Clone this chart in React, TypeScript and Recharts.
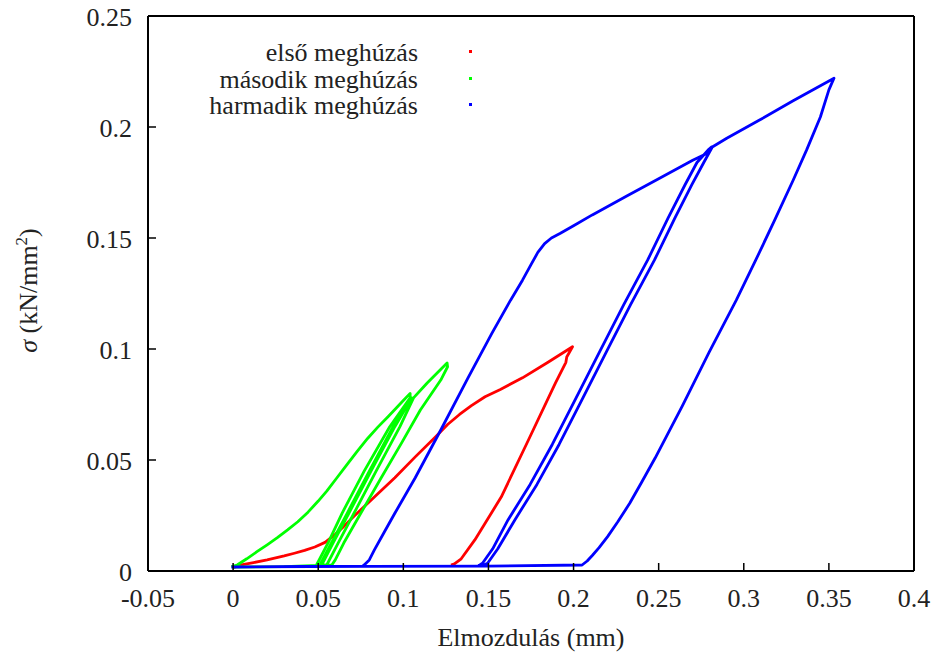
import React from "react";
import { LineChart, Line, XAxis, YAxis, Legend, Label } from "recharts";

const xTicks = [-0.05, 0, 0.05, 0.1, 0.15, 0.2, 0.25, 0.3, 0.35, 0.4];
const yTicks = [0, 0.05, 0.1, 0.15, 0.2, 0.25];

const seriesNames = ["első meghúzás", "második meghúzás", "harmadik meghúzás"];
const seriesColors = ["#ff0000", "#00ff00", "#0000ff"];

// első meghúzás
const firstX = [
  0, 0.004, 0.012, 0.02, 0.03, 0.036, 0.042, 0.048, 0.054, 0.06, 0.065, 0.071,
  0.083, 0.095, 0.107, 0.119, 0.126, 0.133, 0.14, 0.148, 0.157, 0.17, 0.185,
  0.1994, 0.196, 0.1955, 0.1894, 0.1735, 0.1575, 0.142, 0.134, 0.13, 0.128,
];
const firstY = [
  0.0015, 0.0027, 0.0038, 0.005, 0.0068, 0.008, 0.0093, 0.0108, 0.0129, 0.0165,
  0.0201, 0.0247, 0.0333, 0.042, 0.0514, 0.0605, 0.066, 0.0705, 0.0745, 0.0785,
  0.0818, 0.087, 0.094, 0.101, 0.0964, 0.094, 0.0847, 0.059, 0.0333, 0.014,
  0.0055, 0.0032, 0.0027,
];

// második meghúzás
const secondX = [
  -0.001, 0.0024, 0.008, 0.014, 0.02, 0.026, 0.032, 0.038, 0.044, 0.05, 0.055,
  0.061, 0.067, 0.073, 0.079, 0.085, 0.091, 0.096, 0.1, 0.104, 0.104, 0.092,
  0.077, 0.064, 0.056, 0.049, 0.052, 0.059, 0.068, 0.081, 0.095, 0.105, 0.104,
  0.094, 0.08, 0.067, 0.058, 0.051, 0.055, 0.062, 0.071, 0.084, 0.098, 0.106,
  0.114, 0.1257, 0.126, 0.122, 0.11, 0.099, 0.087, 0.075, 0.065, 0.06, 0.058,
  0.03, 0,
];
const secondY = [
  0.002, 0.0027, 0.0055, 0.0087, 0.0118, 0.015, 0.0185, 0.0222, 0.0265, 0.0315,
  0.036, 0.042, 0.048, 0.054, 0.0597, 0.0648, 0.0695, 0.0735, 0.0768, 0.08,
  0.078, 0.065, 0.045, 0.026, 0.013, 0.0027, 0.0027, 0.013, 0.026, 0.045, 0.065,
  0.078, 0.077, 0.065, 0.045, 0.026, 0.013, 0.0027, 0.0027, 0.013, 0.026, 0.045,
  0.065, 0.078, 0.0847, 0.0937, 0.092, 0.086, 0.0725, 0.0577, 0.042, 0.026,
  0.0126, 0.005, 0.0027, 0.002, 0.0018,
];

// harmadik meghúzás
const thirdX = [
  -0.001, 0.04, 0.076, 0.077, 0.08, 0.083, 0.089, 0.095, 0.107, 0.122, 0.138,
  0.152, 0.163, 0.17, 0.175, 0.179, 0.183, 0.187, 0.192, 0.2, 0.211, 0.231,
  0.25, 0.27, 0.278, 0.281, 0.2795, 0.2725, 0.2655, 0.2555, 0.2435, 0.2295,
  0.2155, 0.2015, 0.1875, 0.1745, 0.1615, 0.1525, 0.1465, 0.1445, 0.1465,
  0.1495, 0.1555, 0.1655, 0.1785, 0.1915, 0.2055, 0.2195, 0.2335, 0.2475,
  0.2595, 0.2695, 0.2765, 0.2815, 0.29, 0.309, 0.329, 0.353, 0.35, 0.345, 0.337,
  0.329, 0.318, 0.307, 0.2956, 0.2796, 0.264, 0.248, 0.24, 0.233, 0.226, 0.22,
  0.215, 0.211, 0.208, 0.205, 0.15, 0.08, 0,
];
const thirdY = [
  0.0018, 0.0021, 0.0022, 0.0027, 0.005, 0.0095, 0.0178, 0.026, 0.042, 0.0635,
  0.087, 0.107, 0.122, 0.131, 0.138, 0.1435, 0.1475, 0.15, 0.152, 0.1555,
  0.1604, 0.1688, 0.1767, 0.185, 0.188, 0.191, 0.19, 0.184, 0.174, 0.159, 0.14,
  0.12, 0.099, 0.078, 0.057, 0.039, 0.023, 0.01, 0.0035, 0.0025, 0.0025, 0.0035,
  0.01, 0.023, 0.039, 0.057, 0.078, 0.099, 0.12, 0.14, 0.159, 0.174, 0.184,
  0.191, 0.1949, 0.203, 0.2118, 0.222, 0.2167, 0.2045, 0.1898, 0.176, 0.1578,
  0.14, 0.122, 0.0985, 0.0745, 0.051, 0.04, 0.0305, 0.0222, 0.0155, 0.0105,
  0.007, 0.0045, 0.0027, 0.0022, 0.0021, 0.0018,
];

const toPoints = (xs: number[], ys: number[]) =>
  xs.map((x, i) => ({ x, y: ys[i] }));

const series = [
  toPoints(firstX, firstY),
  toPoints(secondX, secondY),
  toPoints(thirdX, thirdY),
];

const font =
  "'Liberation Serif', Tinos, 'Noto Serif', 'Times New Roman', 'DejaVu Serif', serif";
const textColor = "#222";

const renderLegend = (props: any) => {
  const payload = [...(props.payload || [])].sort(
    (a: any, b: any) => seriesNames.indexOf(a.value) - seriesNames.indexOf(b.value)
  );
  return (
    <div style={{ fontFamily: font, fontSize: 26, color: textColor }}>
      {payload.map((p: any) => (
        <div
          key={p.value}
          style={{ position: "relative", height: 26.5, lineHeight: "26.5px" }}
        >
          <div style={{ width: 270, textAlign: "right", whiteSpace: "nowrap" }}>
            {p.value}
          </div>
          <div
            style={{
              position: "absolute",
              left: 321,
              top: 10,
              width: 3,
              height: 3,
              background: p.color,
            }}
          />
        </div>
      ))}
    </div>
  );
};

const YTitle = (props: any) => {
  const { viewBox } = props;
  const x = viewBox.x + 37;
  const y = viewBox.y + viewBox.height / 2 - 3;
  return (
    <text
      x={x}
      y={y}
      transform={`rotate(-90, ${x}, ${y})`}
      textAnchor="middle"
      fontFamily={font}
      fontSize={26}
      fill={textColor}
    >
      <tspan fontStyle="italic">σ</tspan>
      <tspan> (kN/mm</tspan>
      <tspan dy={-10} fontSize={17}>
        2
      </tspan>
      <tspan dy={10}>)</tspan>
    </text>
  );
};

const XTitle = (props: any) => {
  const { viewBox } = props;
  return (
    <text
      x={viewBox.x + viewBox.width / 2}
      y={646}
      textAnchor="middle"
      fontFamily={font}
      fontSize={26}
      fill={textColor}
    >
      Elmozdulás (mm)
    </text>
  );
};

const axisLine = { stroke: "#000", strokeWidth: 2 };
const tickLine = { stroke: "#000", strokeWidth: 1.5 };
const tickStyle = { fill: textColor, fontSize: 26, fontFamily: font };

export default function App() {
  return (
    <div style={{ position: "absolute", left: 0, top: 0, background: "#fff" }}>
      <LineChart
        width={937}
        height={655}
        margin={{ top: 0, right: 0, bottom: 0, left: 0 }}
      >
        <XAxis
          xAxisId="bottom"
          type="number"
          dataKey="x"
          domain={[-0.05, 0.4]}
          ticks={xTicks}
          allowDataOverflow
          height={84}
          tickSize={-8}
          tickMargin={26}
          axisLine={axisLine}
          tickLine={tickLine}
          tick={tickStyle}
        >
          <Label content={<XTitle />} />
        </XAxis>
        <XAxis
          xAxisId="top"
          orientation="top"
          type="number"
          dataKey="x"
          domain={[-0.05, 0.4]}
          ticks={xTicks}
          allowDataOverflow
          height={16}
          tickSize={-8}
          axisLine={axisLine}
          tickLine={tickLine}
          tick={false}
        />
        <YAxis
          yAxisId="left"
          type="number"
          domain={[0, 0.25]}
          ticks={yTicks}
          allowDataOverflow
          width={148}
          tickSize={-8}
          tickMargin={24}
          axisLine={axisLine}
          tickLine={tickLine}
          tick={{ ...tickStyle, dy: 1 }}
        >
          <Label content={<YTitle />} />
        </YAxis>
        <YAxis
          yAxisId="right"
          orientation="right"
          type="number"
          domain={[0, 0.25]}
          ticks={yTicks}
          allowDataOverflow
          width={23}
          tickSize={-8}
          axisLine={axisLine}
          tickLine={tickLine}
          tick={false}
        />
        <Legend
          layout="horizontal"
          verticalAlign="middle"
          align="center"
          content={renderLegend}
          wrapperStyle={{ left: 148, top: 40, width: 340 }}
        />
        {series.map((data, i) => (
          <Line
            key={seriesNames[i]}
            xAxisId="bottom"
            yAxisId="left"
            data={data}
            dataKey="y"
            name={seriesNames[i]}
            type="linear"
            stroke={seriesColors[i]}
            strokeWidth={2.8}
            strokeLinejoin="round"
            dot={false}
            activeDot={false}
            isAnimationActive={false}
          />
        ))}
      </LineChart>
    </div>
  );
}
